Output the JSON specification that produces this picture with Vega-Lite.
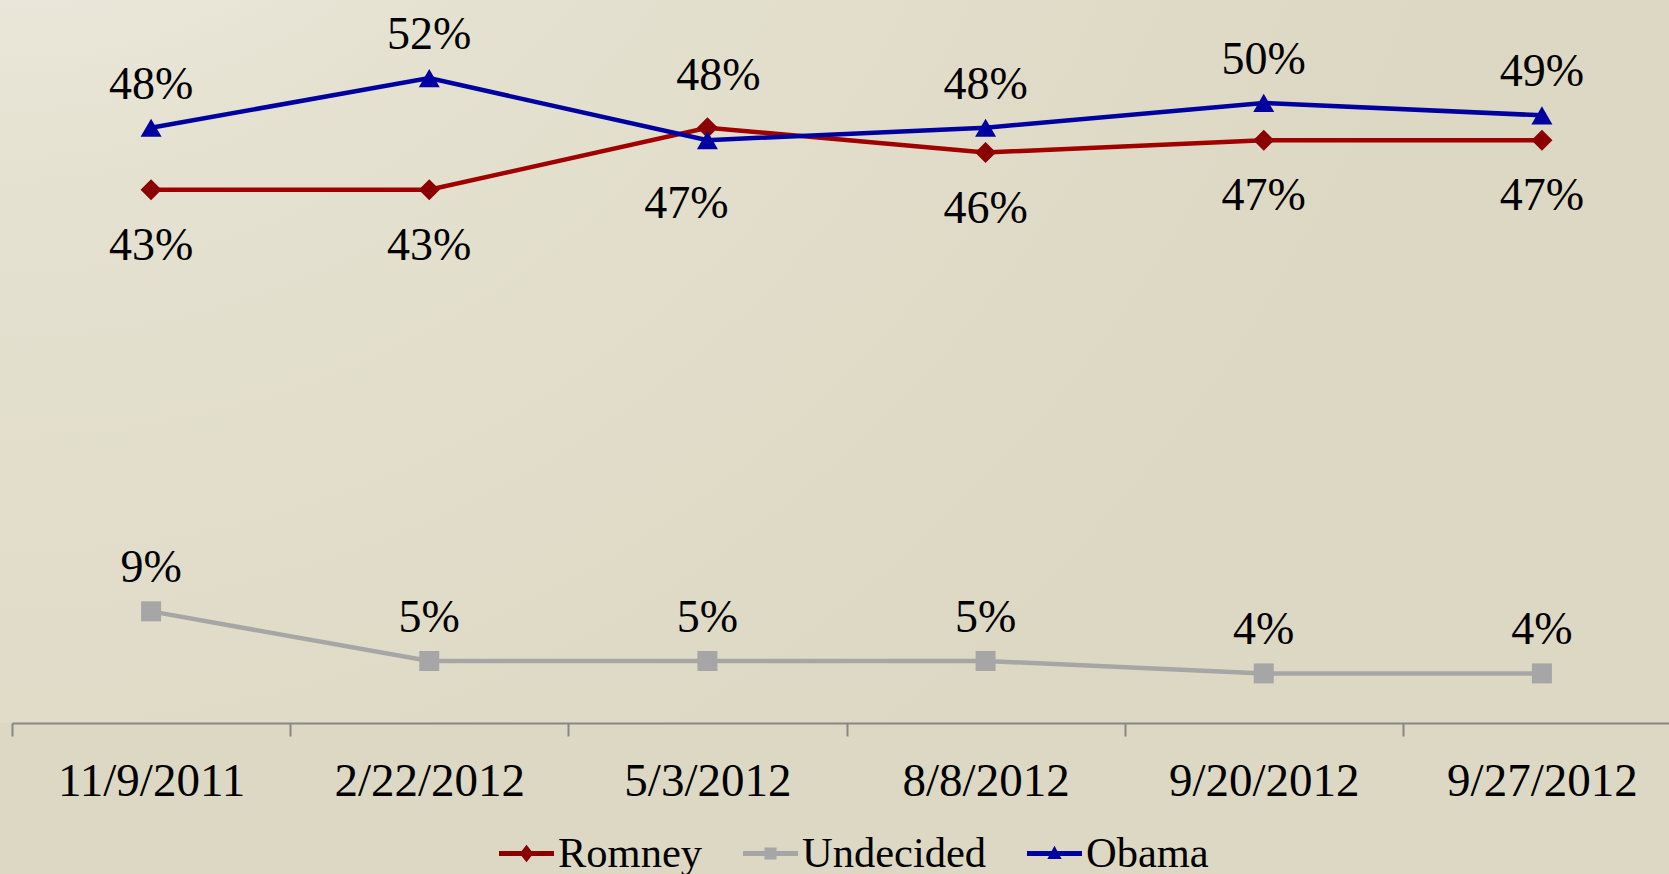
{
  "$schema": "https://vega.github.io/schema/vega-lite/v6.json",
  "width": 1669,
  "height": 723,
  "autosize": {"type": "none"},
  "padding": {"left": 0, "top": 0, "right": 0, "bottom": 151},
  "background": "#ddd8c3",
  "view": {
    "stroke": null,
    "fill": {
      "gradient": "radial",
      "x1": 0, "y1": 0, "r1": 0,
      "x2": 0, "y2": 0, "r2": 0.9,
      "stops": [
        {"offset": 0, "color": "#f5f3ee"},
        {"offset": 0.45, "color": "#e5e1d0"},
        {"offset": 1, "color": "#ddd8c3"}
      ]
    }
  },
  "config": {"font": "Liberation Serif"},
  "data": {
    "values": [
      {"series": "Romney", "date": "11/9/2011", "value": 0.43},
      {"series": "Romney", "date": "2/22/2012", "value": 0.43},
      {"series": "Romney", "date": "5/3/2012", "value": 0.48},
      {"series": "Romney", "date": "8/8/2012", "value": 0.46},
      {"series": "Romney", "date": "9/20/2012", "value": 0.47},
      {"series": "Romney", "date": "9/27/2012", "value": 0.47},
      {"series": "Undecided", "date": "11/9/2011", "value": 0.09},
      {"series": "Undecided", "date": "2/22/2012", "value": 0.05},
      {"series": "Undecided", "date": "5/3/2012", "value": 0.05},
      {"series": "Undecided", "date": "8/8/2012", "value": 0.05},
      {"series": "Undecided", "date": "9/20/2012", "value": 0.04},
      {"series": "Undecided", "date": "9/27/2012", "value": 0.04},
      {"series": "Obama", "date": "11/9/2011", "value": 0.48},
      {"series": "Obama", "date": "2/22/2012", "value": 0.52},
      {"series": "Obama", "date": "5/3/2012", "value": 0.47},
      {"series": "Obama", "date": "8/8/2012", "value": 0.48},
      {"series": "Obama", "date": "9/20/2012", "value": 0.50},
      {"series": "Obama", "date": "9/27/2012", "value": 0.49}
    ]
  },
  "encoding": {
    "x": {
      "field": "date",
      "type": "ordinal",
      "sort": null,
      "scale": {"type": "band", "range": [12, 1681], "paddingInner": 0, "paddingOuter": 0},
      "axis": {
        "title": null,
        "labelAngle": 0,
        "labelLimit": 0,
        "tickBand": "extent",
        "domainColor": "#878787",
        "domainWidth": 2,
        "tickColor": "#878787",
        "tickWidth": 2,
        "tickSize": 13,
        "labelPadding": 22,
        "labelFontSize": 47,
        "labelColor": "#000000",
        "labelFont": "Liberation Serif"
      }
    },
    "y": {
      "field": "value",
      "type": "quantitative",
      "scale": {"domain": [0, 0.583]},
      "axis": null
    }
  },
  "layer": [
    {
      "mark": {"type": "line", "strokeWidth": 4.5},
      "encoding": {
        "color": {
          "field": "series",
          "type": "nominal",
          "scale": {"domain": ["Romney", "Undecided", "Obama"], "range": ["#a00000", "#a6a6a6", "#0000a0"]},
          "legend": null
        }
      }
    },
    {
      "transform": [{"filter": "datum.series == 'Romney'"}],
      "mark": {"type": "point", "filled": true, "opacity": 1, "size": 441, "shape": "diamond", "color": "#8b0000"}
    },
    {
      "transform": [{"filter": "datum.series == 'Undecided'"}],
      "mark": {"type": "point", "filled": true, "opacity": 1, "size": 400, "shape": "square", "color": "#a6a6a6"}
    },
    {
      "transform": [{"filter": "datum.series == 'Obama'"}],
      "mark": {"type": "point", "filled": true, "opacity": 1, "size": 441, "shape": "triangle-up", "color": "#0000a0"}
    },
    {
      "mark": {"type": "point", "filled": true, "size": 0},
      "encoding": {
        "color": {
          "field": "series",
          "type": "nominal",
          "scale": {"domain": ["Romney", "Undecided", "Obama"], "range": ["#8b0000", "#a6a6a6", "#0000a0"]},
          "legend": {
            "title": null,
            "orient": "none",
            "direction": "horizontal",
            "legendX": 499,
            "legendY": 826,
            "symbolSize": 3025,
            "symbolStrokeWidth": 0,
            "symbolOpacity": 1,
            "labelFontSize": 42.5,
            "labelFont": "Liberation Serif",
            "labelColor": "#000000",
            "labelOffset": 4,
            "columnPadding": 40,
            "labelLimit": 400
          }
        },
        "shape": {
          "field": "series",
          "type": "nominal",
          "scale": {
            "domain": ["Romney", "Undecided", "Obama"],
            "range": [
              "M-1,-0.09L1,-0.09L1,0.09L-1,0.09Z M0,-0.32L0.25,0L0,0.32L-0.25,0Z",
              "M-1,-0.09L1,-0.09L1,0.09L-1,0.09Z M-0.22,-0.22L0.22,-0.22L0.22,0.22L-0.22,0.22Z",
              "M-1,-0.09L1,-0.09L1,0.09L-1,0.09Z M0,-0.28L0.26,0.2L-0.26,0.2Z"
            ]
          },
          "legend": {
            "title": null,
            "orient": "none",
            "direction": "horizontal",
            "legendX": 499,
            "legendY": 826,
            "symbolSize": 3025,
            "symbolStrokeWidth": 0,
            "symbolOpacity": 1,
            "labelFontSize": 42.5,
            "labelFont": "Liberation Serif",
            "labelColor": "#000000",
            "labelOffset": 4,
            "columnPadding": 40,
            "labelLimit": 400
          }
        }
      }
    },
    {
      "transform": [{"filter": "(datum.series == 'Obama' && datum.date != '5/3/2012') || datum.series == 'Undecided'"}],
      "mark": {"type": "text", "fontSize": 46, "baseline": "alphabetic", "dy": -29, "color": "#000000", "font": "Liberation Serif"},
      "encoding": {"text": {"field": "value", "type": "quantitative", "format": ".0%"}}
    },
    {
      "transform": [{"filter": "datum.series == 'Romney' && datum.date != '5/3/2012'"}],
      "mark": {"type": "text", "fontSize": 46, "baseline": "alphabetic", "dy": 70, "color": "#000000", "font": "Liberation Serif"},
      "encoding": {"text": {"field": "value", "type": "quantitative", "format": ".0%"}}
    },
    {
      "transform": [{"filter": "datum.series == 'Romney' && datum.date == '5/3/2012'"}],
      "mark": {"type": "text", "fontSize": 46, "baseline": "alphabetic", "dy": -38, "dx": 11, "color": "#000000", "font": "Liberation Serif"},
      "encoding": {"text": {"field": "value", "type": "quantitative", "format": ".0%"}}
    },
    {
      "transform": [{"filter": "datum.series == 'Obama' && datum.date == '5/3/2012'"}],
      "mark": {"type": "text", "fontSize": 46, "baseline": "alphabetic", "dy": 78, "dx": -21, "color": "#000000", "font": "Liberation Serif"},
      "encoding": {"text": {"field": "value", "type": "quantitative", "format": ".0%"}}
    }
  ],
  "resolve": {"scale": {"color": "independent", "shape": "independent"}}
}
